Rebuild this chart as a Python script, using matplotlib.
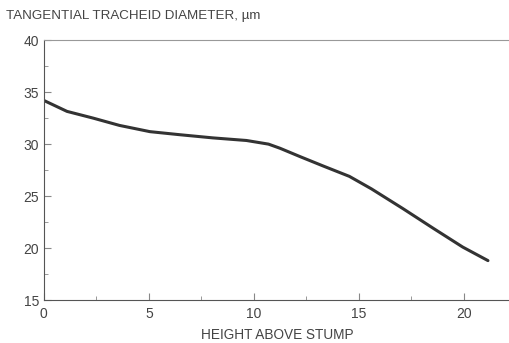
import matplotlib.pyplot as plt
from matplotlib.ticker import MultipleLocator

# tracheid diameter along the stem
height = [0, 1.1, 2.35, 3.6, 5.05, 6.5, 8.05, 9.65, 10.7, 11.25, 12.2, 13.3,
          14.55, 15.6, 17.1, 18.55, 19.95, 21.15]
diameter = [34.2, 33.15, 32.5, 31.8, 31.2, 30.9, 30.6, 30.35, 30.0, 29.6, 28.8, 27.9,
            26.9, 25.7, 23.8, 21.9, 20.1, 18.8]

plt.rcParams['font.family'] = ['Liberation Sans', 'DejaVu Sans']

fig = plt.figure(figsize=(5.1, 3.43), dpi=100)
ax = fig.add_axes([0.086, 0.125, 0.914, 0.758])

ax.plot(height, diameter, color='#333333', lw=2.2, solid_capstyle='round',
        solid_joinstyle='round')

ax.set_xlim(0, 22.2)
ax.set_ylim(15, 40)
ax.xaxis.set_major_locator(MultipleLocator(5))
ax.xaxis.set_minor_locator(MultipleLocator(2.5))
ax.yaxis.set_major_locator(MultipleLocator(5))
ax.yaxis.set_minor_locator(MultipleLocator(2.5))
ax.tick_params(which='both', direction='in', colors='#888888', labelcolor='#444444',
               labelsize=10)
ax.tick_params(which='major', length=5)
ax.tick_params(which='minor', length=3)
ax.tick_params(axis='x', pad=5)

ax.spines['right'].set_visible(False)
for s in ['left', 'bottom']:
    ax.spines[s].set_color('#555555')
ax.spines['top'].set_color('#999999')

ax.set_xlabel('HEIGHT ABOVE STUMP', fontsize=9.8, color='#444444', labelpad=5)
fig.text(0.012, 0.945, 'TANGENTIAL TRACHEID DIAMETER, µm', fontsize=9.6,
         color='#444444', ha='left', va='baseline')

fig.savefig('out.png', dpi=100)
